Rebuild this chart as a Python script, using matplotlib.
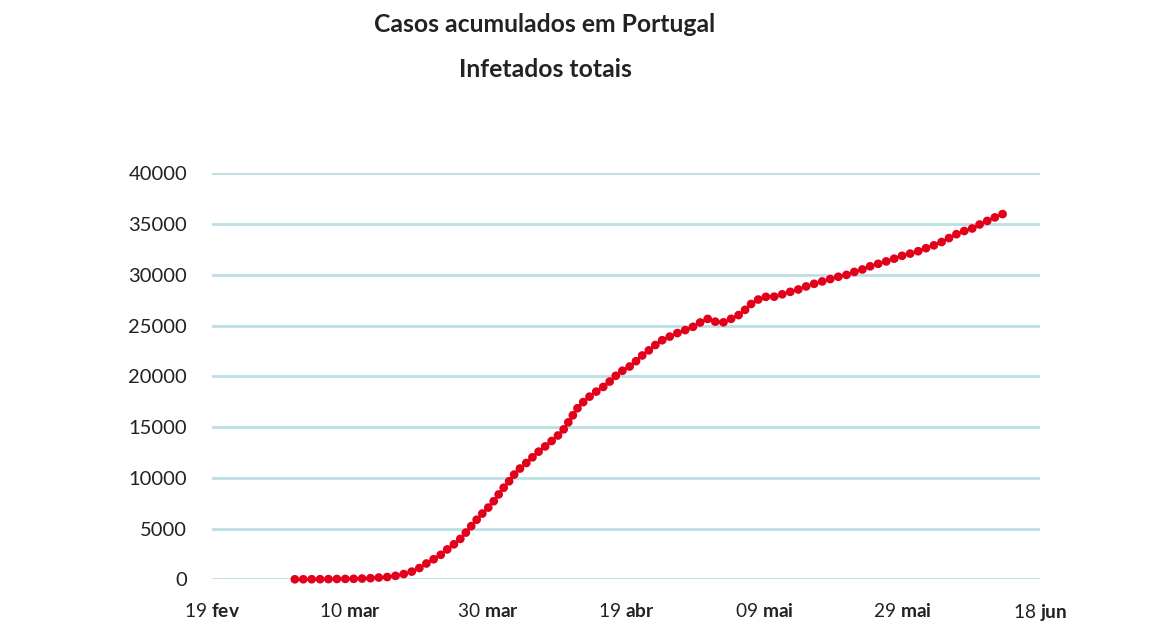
import matplotlib
matplotlib.use("Agg")
import matplotlib.pyplot as plt
import numpy as np
import pandas as pd

# data: daily cumulative cases, 2 Mar -> 13 Jun 2020
start_date = "2020-03-02"
cases = [
    2, 4, 6, 9, 13, 21, 30, 39, 41, 59, 78, 112,
    170, 200, 260, 400, 550, 770, 1090, 1530, 1930, 2330, 2900, 3420, 3990,
    4770, 5600, 6360, 7040, 7830, 8810, 9610, 10510, 11150, 11720, 12400,
    12930, 13500, 14070, 14800, 15850, 16890, 17600, 18160, 18640, 19090,
    19710, 20370, 20740, 21170, 21880, 22380, 22950, 23480, 23800, 24130,
    24420, 24650, 24970, 25420, 25700, 25360, 25280, 25600, 25880, 26370,
    27070, 27510, 27850, 27780, 27920, 28170, 28360, 28560, 28830, 29060,
    29260, 29460, 29660, 29850, 30000, 30270, 30450, 30750, 30980, 31170,
    31380, 31620, 31870, 32060, 32220, 32520, 32730, 33010, 33310, 33690,
    34040, 34310, 34500, 34880, 35200, 35510, 35830, 36100,
]
dates = pd.date_range(start_date, periods=len(cases), freq="D")

tick_dates = pd.to_datetime(["2020-02-19", "2020-03-10", "2020-03-30", "2020-04-19",
                             "2020-05-09", "2020-05-29", "2020-06-18"])
tick_days = ["19", "10", "30", "19", "09", "29", "18"]
tick_months = ["fev", "mar", "mar", "abr", "mai", "mai", "jun"]
y_ticks = [0, 5000, 10000, 15000, 20000, 25000, 30000, 35000, 40000]

title = "Casos acumulados em Portugal"
subtitle = "Infetados totais"

#%% style
plt.rcParams["font.family"] = ["Lato", "DejaVu Sans"]
plt.rcParams["mathtext.fontset"] = "custom"
plt.rcParams["mathtext.rm"] = "Lato"
plt.rcParams["mathtext.bf"] = "Lato:bold"

red = "#e2001a"
grid_col = "#bcdfe4"
text_col = "#222222"

fig = plt.figure(figsize=(11.58, 6.25), dpi=100)
ax = fig.add_axes([0.1831, 0.0731, 0.7150, 0.6496])

# dotted line: round caps on near-zero dashes give the row of dots
ax.plot(dates, cases, color=red, lw=6.3, linestyle=(0, (0.01, 0.95)),
        dash_capstyle="round", clip_on=False, zorder=3)

ax.set_xlim(tick_dates[0], tick_dates[-1])
ax.set_ylim(0, 40000)

ax.set_yticks(y_ticks)
ax.set_yticklabels([str(v) for v in y_ticks])
ax.set_xticks(tick_dates)
ax.set_xticklabels([d + r" $\mathbf{" + m + "}$" for d, m in zip(tick_days, tick_months)])

ax.grid(axis="y", color=grid_col, lw=2)
ax.set_axisbelow(True)
for s in ax.spines.values():
    s.set_visible(False)
ax.tick_params(axis="y", length=0, pad=18, labelsize=14.5, labelcolor=text_col)
ax.tick_params(axis="x", length=0, pad=16, labelsize=13.8, labelcolor=text_col)

fig.text(0.4706, 0.961, title, ha="center", va="center", fontsize=17.8,
         fontweight="bold", color=text_col)
fig.text(0.4706, 0.889, subtitle, ha="center", va="center", fontsize=17.8,
         fontweight="bold", color=text_col)

fig.savefig("out.png", dpi=100)
